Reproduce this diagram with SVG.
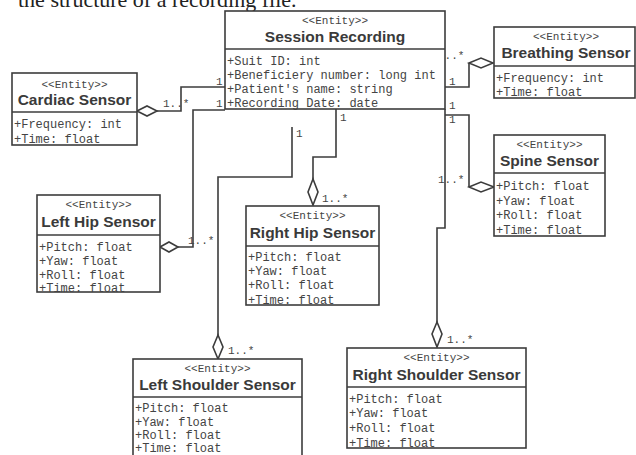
<svg xmlns="http://www.w3.org/2000/svg" width="636" height="455" viewBox="0 0 636 455">
<style>
.box{fill:#fff;stroke:#3c3c3c;stroke-width:1.6}
.sep{stroke:#3c3c3c;stroke-width:1.6}
.st{font-family:"Liberation Mono",monospace;font-size:11px;fill:#444;text-anchor:middle}
.ti{font-family:"Liberation Sans",Arial,sans-serif;font-weight:bold;font-size:15.5px;fill:#3a3a3a;text-anchor:middle}
.at{font-family:"Liberation Mono",monospace;font-size:12px;fill:#444}
.lb{font-family:"Liberation Mono",monospace;font-size:11px;fill:#444}
.ln{fill:none;stroke:#3c3c3c;stroke-width:1.6}
.dm{fill:#fff;stroke:#3c3c3c;stroke-width:1.6}
.hd{font-family:"Liberation Serif","Times New Roman",serif;font-size:22px;fill:#222}
</style>
<rect width="636" height="455" fill="#fff"/>
<text class="hd" x="18" y="7">the structure of a recording file.</text>

<g id="connectors">
<path class="ln" d="M157,111 H181 V87 H225"/>
<path class="dm" d="M137,111 L147,106 L157,111 L147,116 Z"/>
<path class="ln" d="M225,110 H193 V247 H178"/>
<path class="dm" d="M160,247 L169,242 L178,247 L169,252 Z"/>
<path class="ln" d="M292,127 V177 H218 V335"/>
<path class="dm" d="M218,335 L223,347 L218,359 L213,347 Z"/>
<path class="ln" d="M336,109 V157 H313 V179"/>
<path class="dm" d="M313,179 L318,192 L313,205 L308,192 Z"/>
<path class="ln" d="M445,87 H469 V63"/>
<path class="dm" d="M469,63 L481,58 L493,63 L481,68 Z"/>
<path class="ln" d="M445,115 H469 V187"/>
<path class="dm" d="M469,187 L481,182 L494,187 L481,192 Z"/>
<path class="ln" d="M445,109 V228 H437 V322"/>
<path class="dm" d="M437,322 L442,334 L437,347 L432,334 Z"/>
<text class="lb" x="216" y="85">1</text>
<text class="lb" x="163" y="107">1..*</text>
<text class="lb" x="216" y="107">1</text>
<text class="lb" x="188" y="244">1..*</text>
<text class="lb" x="296" y="137">1</text>
<text class="lb" x="228" y="354">1..*</text>
<text class="lb" x="340" y="121">1</text>
<text class="lb" x="322" y="202">1..*</text>
<text class="lb" x="438" y="59">1..*</text>
<text class="lb" x="449" y="85">1</text>
<text class="lb" x="449" y="109">1</text>
<text class="lb" x="449" y="123">1</text>
<text class="lb" x="438" y="183">1..*</text>
<text class="lb" x="447" y="343">1..*</text>
</g>

<g id="session-recording">
<rect class="box" x="225" y="11" width="220" height="98"/>
<line class="sep" x1="225" y1="49" x2="445" y2="49"/>
<text class="st" x="335" y="24">&lt;&lt;Entity&gt;&gt;</text>
<text class="ti" x="335" y="42">Session Recording</text>
<text class="at" x="227" y="65">+Suit ID: int</text>
<text class="at" x="227" y="79">+Beneficiery number: long int</text>
<text class="at" x="227" y="93">+Patient's name: string</text>
<text class="at" x="227" y="107">+Recording Date: date</text>
</g>

<g id="cardiac-sensor">
<rect class="box" x="12" y="73" width="125" height="72"/>
<line class="sep" x1="12" y1="112" x2="137" y2="112"/>
<text class="st" x="74.5" y="88">&lt;&lt;Entity&gt;&gt;</text>
<text class="ti" x="74.5" y="105">Cardiac Sensor</text>
<text class="at" x="14" y="128">+Frequency: int</text>
<text class="at" x="14" y="143">+Time: float</text>
</g>

<g id="breathing-sensor">
<rect class="box" x="494" y="27" width="141" height="71"/>
<line class="sep" x1="494" y1="66" x2="635" y2="66"/>
<text class="st" x="566" y="40">&lt;&lt;Entity&gt;&gt;</text>
<text class="ti" x="566" y="58">Breathing Sensor</text>
<text class="at" x="496" y="82">+Frequency: int</text>
<text class="at" x="496" y="96">+Time: float</text>
</g>

<g id="spine-sensor">
<rect class="box" x="494" y="135" width="111" height="101"/>
<line class="sep" x1="494" y1="173" x2="605" y2="173"/>
<text class="st" x="549.5" y="148">&lt;&lt;Entity&gt;&gt;</text>
<text class="ti" x="549.5" y="166">Spine Sensor</text>
<text class="at" x="496" y="190">+Pitch: float</text>
<text class="at" x="496" y="205">+Yaw: float</text>
<text class="at" x="496" y="219">+Roll: float</text>
<text class="at" x="496" y="234">+Time: float</text>
</g>

<g id="left-hip-sensor">
<rect class="box" x="37" y="195" width="123" height="97"/>
<line class="sep" x1="37" y1="235" x2="160" y2="235"/>
<text class="st" x="98.5" y="208">&lt;&lt;Entity&gt;&gt;</text>
<text class="ti" x="98.5" y="227">Left Hip Sensor</text>
<text class="at" x="39" y="251">+Pitch: float</text>
<text class="at" x="39" y="265">+Yaw: float</text>
<text class="at" x="39" y="279">+Roll: float</text>
<text class="at" x="39" y="292">+Time: float</text>
</g>

<g id="right-hip-sensor">
<rect class="box" x="246" y="206" width="133" height="99"/>
<line class="sep" x1="246" y1="246" x2="379" y2="246"/>
<text class="st" x="312.5" y="219">&lt;&lt;Entity&gt;&gt;</text>
<text class="ti" x="312.5" y="238">Right Hip Sensor</text>
<text class="at" x="248" y="261">+Pitch: float</text>
<text class="at" x="248" y="275">+Yaw: float</text>
<text class="at" x="248" y="289">+Roll: float</text>
<text class="at" x="248" y="304">+Time: float</text>
</g>

<g id="left-shoulder-sensor">
<rect class="box" x="133" y="359" width="169" height="110"/>
<line class="sep" x1="133" y1="397" x2="302" y2="397"/>
<text class="st" x="217.5" y="372">&lt;&lt;Entity&gt;&gt;</text>
<text class="ti" x="217.5" y="390">Left Shoulder Sensor</text>
<text class="at" x="135" y="412">+Pitch: float</text>
<text class="at" x="135" y="426">+Yaw: float</text>
<text class="at" x="135" y="439">+Roll: float</text>
<text class="at" x="135" y="452">+Time: float</text>
</g>

<g id="right-shoulder-sensor">
<rect class="box" x="347" y="348" width="179" height="100"/>
<line class="sep" x1="347" y1="387" x2="526" y2="387"/>
<text class="st" x="436.5" y="361">&lt;&lt;Entity&gt;&gt;</text>
<text class="ti" x="436.5" y="380">Right Shoulder Sensor</text>
<text class="at" x="349" y="403">+Pitch: float</text>
<text class="at" x="349" y="417">+Yaw: float</text>
<text class="at" x="349" y="432">+Roll: float</text>
<text class="at" x="349" y="447">+Time: float</text>
</g>
</svg>
